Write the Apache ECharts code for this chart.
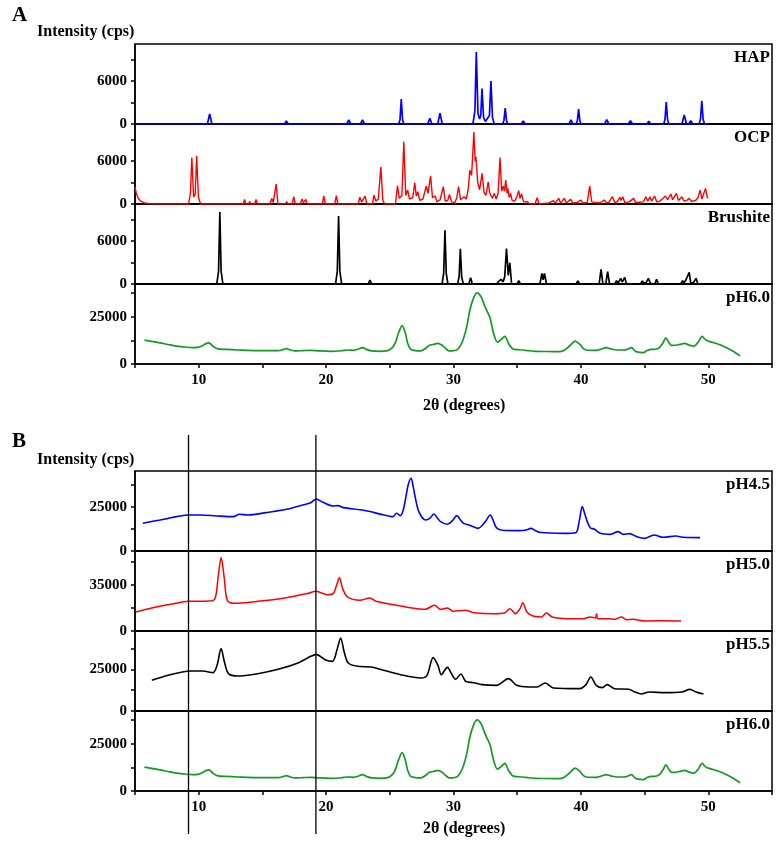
<!DOCTYPE html>
<html>
<head>
<meta charset="utf-8">
<script src="https://cdn.jsdelivr.net/npm/echarts@6/dist/echarts.min.js"></script>
<style>
html,body{margin:0;padding:0;background:#fff;}
#chart{width:777px;height:843px;}
</style>
</head>
<body>
<div id="chart"></div>
<script>
// ---------- DATA ----------
const xRange = [5, 55];
const xTickValues = [5, 10, 15, 20, 25, 30, 35, 40, 45, 50, 55];
const xTickLabels = [10, 20, 30, 40, 50];
const xTitle = '2θ (degrees)';
const yTitle = 'Intensity (cps)';
const panelLetters = ['A', 'B'];

const namesA = ['HAP', 'OCP', 'Brushite', 'pH6.0'];
const namesB = ['pH4.5', 'pH5.0', 'pH5.5', 'pH6.0'];

const yMaxA = [11200, 11200, 11200, 42300];
const yTicksA = [[0, 3000, 6000, 9000], [0, 3000, 6000, 9000], [0, 3000, 6000, 9000], [0, 12500, 25000, 37500]];
const yLabelsA = [[0, 6000], [0, 6000], [0, 6000], [0, 25000]];

const yMaxB = [45100, 60400, 48000, 42300];
const yTicksB = [[0, 12500, 25000, 37500], [0, 17500, 35000, 52500], [0, 12500, 25000, 37500], [0, 12500, 25000, 37500]];
const yLabelsB = [[0, 25000], [0, 35000], [0, 25000], [0, 25000]];

const refLinesX = [9.2, 19.2];

const hapData = [[5,0],
[10.68,0],[10.86,1400],[11.04,0],
[16.73,0],[16.88,420],[17.03,0],
[18.68,0],[18.83,230],[18.98,0],
[21.62,0],[21.78,560],[21.94,0],
[22.7,0],[22.86,560],[23.02,0],
[25.26,0],[25.39,280],[25.52,0],
[25.7,0],[25.8,600],[25.9,3490],[26.0,600],[26.1,0],
[27.97,0],[28.14,790],[28.31,0],
[28.76,0],[28.94,1530],[29.12,0],
[31.52,0],[31.68,1800],[31.79,10090],[31.92,1500],[32.05,700],[32.14,1200],[32.24,4975],[32.36,900],[32.5,350],[32.65,300],[32.82,1200],[32.94,6000],[33.06,900],[33.2,0],
[33.86,0],[33.96,500],[34.06,2230],[34.16,500],[34.26,0],
[35.32,0],[35.47,420],[35.62,0],
[39.06,0],[39.22,560],[39.38,0],
[39.62,0],[39.72,450],[39.82,2090],[39.92,450],[40.02,0],
[40.35,0],[40.5,230],[40.65,0],
[41.86,0],[42.03,600],[42.2,0],
[43.72,0],[43.89,465],[44.06,0],
[45.18,0],[45.33,370],[45.48,0],
[46.5,0],[46.6,650],[46.7,3070],[46.8,650],[46.9,0],
[47.93,0],[48.11,1255],[48.29,0],
[48.47,0],[48.62,465],[48.77,0],
[49.28,0],[49.39,700],[49.49,3255],[49.59,700],[49.7,0],
[50,0]];

const ocpData = [[5.0,2400],[5.1,1500],[5.25,800],[5.45,400],[5.75,150],[6.2,30],[6.8,0],
[9.2,0],[9.35,1500],[9.46,6510],[9.6,1000],[9.72,1300],[9.84,6700],[9.98,900],[10.15,0],
[13.5,0],[13.6,650],[13.7,0],
[13.9,0],[14.0,325],[14.1,0],
[14.4,0],[14.5,650],[14.6,0],
[15.6,0],[15.73,790],[15.85,200],[15.95,400],[16.08,2790],[16.22,0],
[16.8,0],[16.9,325],[17.0,0],
[17.34,0],[17.46,1020],[17.58,0],
[17.98,0],[18.1,700],[18.22,200],[18.3,200],[18.4,650],[18.52,0],
[19.7,0],[19.82,1120],[19.94,0],
[20.68,0],[20.8,1160],[20.92,0],
[21.6,0],[21.7,190],[21.8,0],
[22.52,0],[22.64,930],[22.8,300],[22.9,300],[23.06,1120],[23.2,0],
[23.64,0],[23.76,1255],[23.9,400],[24.1,700],[24.3,5210],[24.45,500],[24.6,0],
[25.45,0],[25.6,2560],[25.75,800],[25.95,1200],[26.1,8700],[26.25,1200],[26.4,1950],[26.55,700],[26.8,900],[26.96,2980],[27.08,1100],[27.2,1720],[27.35,500],[27.6,700],[27.86,2510],[28.0,1500],[28.2,3950],[28.35,900],[28.56,1120],[28.7,300],[28.95,600],[29.2,2420],[29.35,400],[29.55,500],[29.68,1350],[29.85,300],[30.1,200],[30.25,800],[30.4,2420],[30.55,600],[30.83,1020],[31.0,700],[31.15,2000],[31.28,4740],[31.42,4000],[31.6,10090],[31.7,6000],[31.76,6600],[31.9,3000],[32.05,2000],[32.24,4280],[32.4,1600],[32.55,1200],[32.72,3115],[32.85,1500],[32.94,1720],[33.05,800],[33.2,1490],[33.35,700],[33.5,1500],[33.65,6510],[33.78,1800],[33.9,2510],[34.0,1800],[34.1,3350],[34.2,1500],[34.26,2185],[34.38,900],[34.48,1490],[34.6,500],[34.8,400],[34.95,900],[35.12,1860],[35.22,800],[35.34,1400],[35.5,300],[35.76,325],[36.0,0],
[36.4,0],[36.56,880],[36.72,0],
[37.2,100],[37.5,150],[37.84,465],[38.0,150],[38.26,790],[38.4,150],[38.55,200],[38.7,790],[38.85,150],[39.2,650],[39.35,150],[39.7,200],[39.98,560],[40.15,150],[40.5,200],[40.69,2510],[40.85,300],[41.2,200],[41.5,150],[41.84,560],[42.0,150],[42.2,250],[42.48,1020],[42.65,200],[42.85,300],[43.06,930],[43.15,500],[43.28,1020],[43.45,200],[43.8,300],[44.14,790],[44.3,200],[44.6,250],[44.9,300],[45.1,1020],[45.25,400],[45.42,1020],[45.55,400],[45.78,1120],[45.95,300],[46.2,400],[46.45,800],[46.64,1120],[46.8,600],[47.06,1400],[47.2,600],[47.35,700],[47.5,1490],[47.65,500],[47.92,1020],[48.1,400],[48.3,500],[48.5,790],[48.7,350],[49.0,500],[49.2,900],[49.36,1950],[49.5,700],[49.65,900],[49.78,2185],[49.92,930],[50.0,800]];

const brushiteData = [[5,0],
[11.42,0],[11.56,1800],[11.66,10090],[11.76,1800],[11.9,0],
[17.88,0],[18.0,90],[18.12,0],
[20.74,0],[20.88,1800],[20.98,9530],[21.08,1800],[21.22,0],
[23.3,0],[23.44,560],[23.58,0],
[24.44,0],[24.56,185],[24.68,0],
[29.1,0],[29.23,1500],[29.33,7530],[29.43,1500],[29.56,0],
[30.32,0],[30.44,1000],[30.54,4930],[30.64,1000],[30.77,0],
[31.2,0],[31.34,880],[31.48,0],
[31.96,0],[32.08,185],[32.2,0],
[33.4,0],[33.52,325],[33.6,200],[33.74,650],[33.9,300],[34.02,1000],[34.16,4975],[34.3,1200],[34.42,2975],[34.56,0],
[34.98,0],[35.12,465],[35.26,0],
[35.48,0],[35.6,280],[35.72,0],
[36.78,0],[36.94,1490],[37.04,600],[37.14,1490],[37.3,0],
[39.62,0],[39.76,420],[39.9,0],
[41.43,0],[41.58,2046],[41.73,0],[41.95,0],[42.1,1720],[42.25,0],
[42.66,0],[42.8,465],[42.92,100],[43.0,200],[43.12,790],[43.25,300],[43.44,930],[43.58,0],
[44.68,0],[44.82,420],[44.94,100],[45.12,200],[45.3,790],[45.45,100],[45.6,0],
[45.8,0],[45.94,650],[46.08,0],
[46.68,0],[46.8,90],[46.92,0],
[47.84,0],[47.98,465],[48.1,150],[48.24,560],[48.36,400],[48.5,1630],[48.62,200],[48.8,100],[49.04,790],[49.18,0],
[50,0]];

const ph60Data = [[5.74,12585],[6.3,12000],[6.96,11200],[7.6,10300],[8.24,9480],[8.9,9000],[9.52,8620],[10.0,8900],[10.32,9830],[10.6,10900],[10.8,11200],[11.1,9500],[11.44,8100],[12.2,7700],[13.04,7410],[14.64,7070],[16.24,7070],[16.6,7600],[16.88,8100],[17.2,7400],[17.52,6900],[18.2,7100],[18.8,7240],[19.5,6900],[20.4,6720],[21.2,7000],[21.68,7410],[22.16,7240],[22.5,7800],[22.86,8620],[23.2,7600],[23.6,6900],[24.2,6700],[24.72,6900],[25.05,7800],[25.3,9480],[25.5,12500],[25.68,16380],[25.97,20340],[26.22,16380],[26.4,11000],[26.64,7760],[27.0,7100],[27.44,6900],[27.8,8200],[28.08,9830],[28.4,10300],[28.78,10860],[29.0,10300],[29.2,9480],[29.45,7800],[29.68,6900],[30.0,7000],[30.32,7760],[30.55,9800],[30.8,13790],[31.05,20000],[31.28,28450],[31.6,35340],[31.86,37580],[32.18,35340],[32.4,31500],[32.62,28100],[32.88,24140],[33.14,16380],[33.46,11550],[33.74,12930],[34.03,14650],[34.32,10860],[34.6,8300],[34.8,7760],[35.44,7410],[35.9,7000],[36.4,6720],[37.4,6600],[38.32,6550],[38.7,7300],[38.96,8620],[39.25,10500],[39.54,12070],[39.92,10340],[40.15,8500],[40.4,7410],[41.2,7240],[41.6,7900],[42.0,8620],[42.4,7900],[42.8,7410],[43.5,7500],[43.98,8620],[44.2,7200],[44.4,6380],[44.88,6030],[45.2,7100],[45.52,7760],[45.85,7800],[46.16,8620],[46.45,11200],[46.67,13790],[46.9,11500],[47.12,9830],[47.45,9900],[47.76,10340],[48.14,10860],[48.5,10000],[48.88,9480],[49.2,11500],[49.52,14650],[49.75,13000],[50.0,12070],[50.64,10860],[51.28,9140],[51.92,6900],[52.5,4310]];

const ph45Data = [[5.62,15600],[6.3,16600],[6.96,17480],[7.6,18400],[8.24,19360],[9.2,20300],[10.16,20300],[11.44,19740],[12.72,19360],[13.2,20680],[13.84,20300],[15.28,21620],[16.88,23500],[18.16,25940],[18.8,27260],[19.22,29330],[19.76,27450],[20.56,25380],[20.94,25570],[21.36,24440],[22.96,22940],[24.56,20300],[25.26,19360],[25.52,21240],[25.84,19930],[26.05,23000],[26.22,28760],[26.45,37500],[26.67,40980],[26.82,37000],[26.96,31580],[27.28,22180],[27.82,17480],[28.15,18500],[28.46,20870],[28.75,18500],[28.98,16540],[29.52,15040],[29.9,17000],[30.26,19930],[30.55,17500],[30.8,15600],[31.22,14660],[31.92,12780],[32.5,16540],[32.88,20300],[33.1,17500],[33.36,13160],[33.84,11660],[35.12,11470],[35.7,11800],[36.08,12780],[36.4,11600],[36.72,10530],[38.64,9960],[39.6,10340],[39.86,16540],[40.11,25000],[40.3,21000],[40.5,16540],[40.75,13000],[41.04,12400],[41.52,9960],[42.32,9400],[42.9,10900],[43.34,9400],[43.82,9780],[44.4,8080],[44.98,7140],[45.74,9020],[46.48,7710],[47.44,8460],[48.08,7710],[49.36,7520]];

const ph50Data = [[5.04,14350],[6.32,17370],[7.92,20400],[9.2,22410],[10.8,22660],[11.28,24420],[11.54,42050],[11.76,55400],[11.98,42050],[12.24,23170],[12.72,20900],[14.64,22410],[16.88,25180],[18.48,28200],[19.22,29960],[20.08,27450],[20.56,28200],[20.82,34500],[21.04,40290],[21.3,31980],[21.68,25680],[22.64,23170],[23.44,24930],[23.92,22410],[25.84,18890],[27.76,16370],[28.5,19390],[28.98,16370],[29.52,17370],[30.0,14860],[30.9,15610],[31.6,13850],[33.2,13090],[34.0,13600],[34.42,16870],[34.86,13090],[35.22,16870],[35.44,21400],[35.76,14350],[36.24,11330],[36.88,10580],[37.3,13600],[37.74,10580],[38.96,9320],[40.24,9320],[40.72,10580],[41.14,9820],[41.23,13090],[41.33,9320],[42.16,9320],[42.64,8810],[43.18,10580],[43.6,8560],[44.08,8810],[45.04,7550],[46.64,7810],[47.86,7550]];

const ph55Data = [[6.32,18400],[7.6,21400],[8.72,23400],[9.36,24000],[10.32,24000],[11.12,23000],[11.44,27400],[11.76,37400],[12.02,29400],[12.34,22400],[13.04,21000],[14.64,22400],[16.24,25000],[17.84,29000],[18.8,32800],[19.22,34000],[19.92,30800],[20.5,29800],[20.88,37400],[21.14,43800],[21.42,35400],[21.74,28800],[22.48,26800],[23.54,26400],[24.24,25000],[25.84,21800],[27.44,19800],[27.92,21400],[28.4,32000],[28.78,27400],[29.04,21800],[29.52,26200],[29.84,22400],[30.16,19000],[30.58,22200],[30.96,17800],[31.6,17000],[32.24,15800],[33.36,15400],[34.32,19400],[34.96,15400],[35.92,14400],[36.56,14400],[37.2,16800],[37.84,13800],[39.92,13400],[40.4,15800],[40.78,20400],[41.2,15400],[41.68,14000],[42.06,15800],[42.64,13400],[43.76,13000],[44.24,11400],[44.72,10200],[45.36,11400],[46.64,11000],[47.92,11400],[48.56,13000],[49.04,11400],[49.62,10200]];

// ---------- LAYOUT / STYLE ----------
const FONT = '"Liberation Serif", "Times New Roman", serif';
const BLUE = '#0000ff', RED = '#ff0000', BLACK = '#000000', GREEN = '#129a25';
const panels = [
  {top: 44, names: namesA, data: [hapData, ocpData, brushiteData, ph60Data], colors: [BLUE, RED, BLACK, GREEN], yMax: yMaxA, yTicks: yTicksA, yLabels: yLabelsA, width: [1.7, 1.4, 1.7, 1.7], smooth: [false, false, false, 0.3]},
  {top: 471, names: namesB, data: [ph45Data, ph50Data, ph55Data, ph60Data], colors: [BLUE, RED, BLACK, GREEN], yMax: yMaxB, yTicks: yTicksB, yLabels: yLabelsB, width: [1.6, 1.5, 1.6, 1.7], smooth: [0.3, 0.3, 0.3, 0.3]}
];
const LEFT = 135, RIGHT = 5, H = 80;

const grids = [], xAxes = [], yAxes = [], series = [], graphics = [];
panels.forEach((p, pi) => {
  for (let i = 0; i < 4; i++) {
    const gi = grids.length;
    const top = p.top + i * H;
    const bottom = i === 3;
    grids.push({left: LEFT, right: RIGHT, top: top, height: H, show: true, borderColor: '#000', borderWidth: 1.5, backgroundColor: 'transparent'});
    xAxes.push({
      type: 'value', gridIndex: gi, min: xRange[0], max: xRange[1],
      axisLine: {show: true, onZero: false, lineStyle: {color: '#000', width: 1.5}},
      axisTick: {show: bottom, length: 4, lineStyle: {color: '#000', width: 1.5}, customValues: xTickValues},
      axisLabel: {show: bottom, customValues: xTickLabels, formatter: v => String(v), color: '#000', fontFamily: FONT, fontWeight: 'bold', fontSize: 15, margin: 9},
      splitLine: {show: false}
    });
    yAxes.push({
      type: 'value', gridIndex: gi, min: 0, max: p.yMax[i],
      axisLine: {show: true, lineStyle: {color: '#000', width: 1.5}},
      axisTick: {show: true, length: 4, lineStyle: {color: '#000', width: 1.5}, customValues: p.yTicks[i]},
      axisLabel: {show: true, customValues: p.yLabels[i], formatter: v => String(v), color: '#000', fontFamily: FONT, fontWeight: 'bold', fontSize: 15, margin: 8},
      splitLine: {show: false}
    });
    series.push({
      type: 'line', name: p.names[i], xAxisIndex: gi, yAxisIndex: gi,
      data: p.data[i], showSymbol: false, symbol: 'none', smooth: p.smooth[i],
      lineStyle: {color: p.colors[i], width: p.width[i]}, itemStyle: {color: p.colors[i]},
      animation: false, z: 3
    });
    graphics.push({type: 'text', right: 7, top: top + 5, style: {text: p.names[i], font: 'bold 17px ' + FONT, fill: '#000', textAlign: 'right'}});
  }
});

// Reference vertical lines in panel B (own grid spanning beyond the panel)
const vg = grids.length;
grids.push({left: LEFT, right: RIGHT, top: 435, height: 399, show: false});
xAxes.push({type: 'value', gridIndex: vg, min: xRange[0], max: xRange[1], show: false});
yAxes.push({type: 'value', gridIndex: vg, min: 0, max: 1, show: false});
refLinesX.forEach(v => {
  series.push({type: 'line', xAxisIndex: vg, yAxisIndex: vg, data: [[v, 0], [v, 1]], showSymbol: false, symbol: 'none',
    lineStyle: {color: '#000', width: 1.3}, animation: false, z: 5});
});

// Texts
graphics.push({type: 'text', left: 12, top: 5, style: {text: panelLetters[0], font: 'bold 21px ' + FONT, fill: '#000'}});
graphics.push({type: 'text', left: 12, top: 431, style: {text: panelLetters[1], font: 'bold 21px ' + FONT, fill: '#000'}});
graphics.push({type: 'text', left: 37, top: 24, style: {text: yTitle, font: 'bold 16px ' + FONT, fill: '#000'}});
graphics.push({type: 'text', left: 37, top: 452, style: {text: yTitle, font: 'bold 16px ' + FONT, fill: '#000'}});
graphics.push({type: 'text', left: 423, top: 398, style: {text: xTitle, font: 'bold 16px ' + FONT, fill: '#000'}});
graphics.push({type: 'text', left: 423, top: 821, style: {text: xTitle, font: 'bold 16px ' + FONT, fill: '#000'}});

const chart = echarts.init(document.getElementById('chart'), null, {renderer: 'canvas'});
chart.setOption({
  backgroundColor: '#fff',
  animation: false,
  grid: grids, xAxis: xAxes, yAxis: yAxes, series: series, graphic: graphics
});
</script>
</body>
</html>
